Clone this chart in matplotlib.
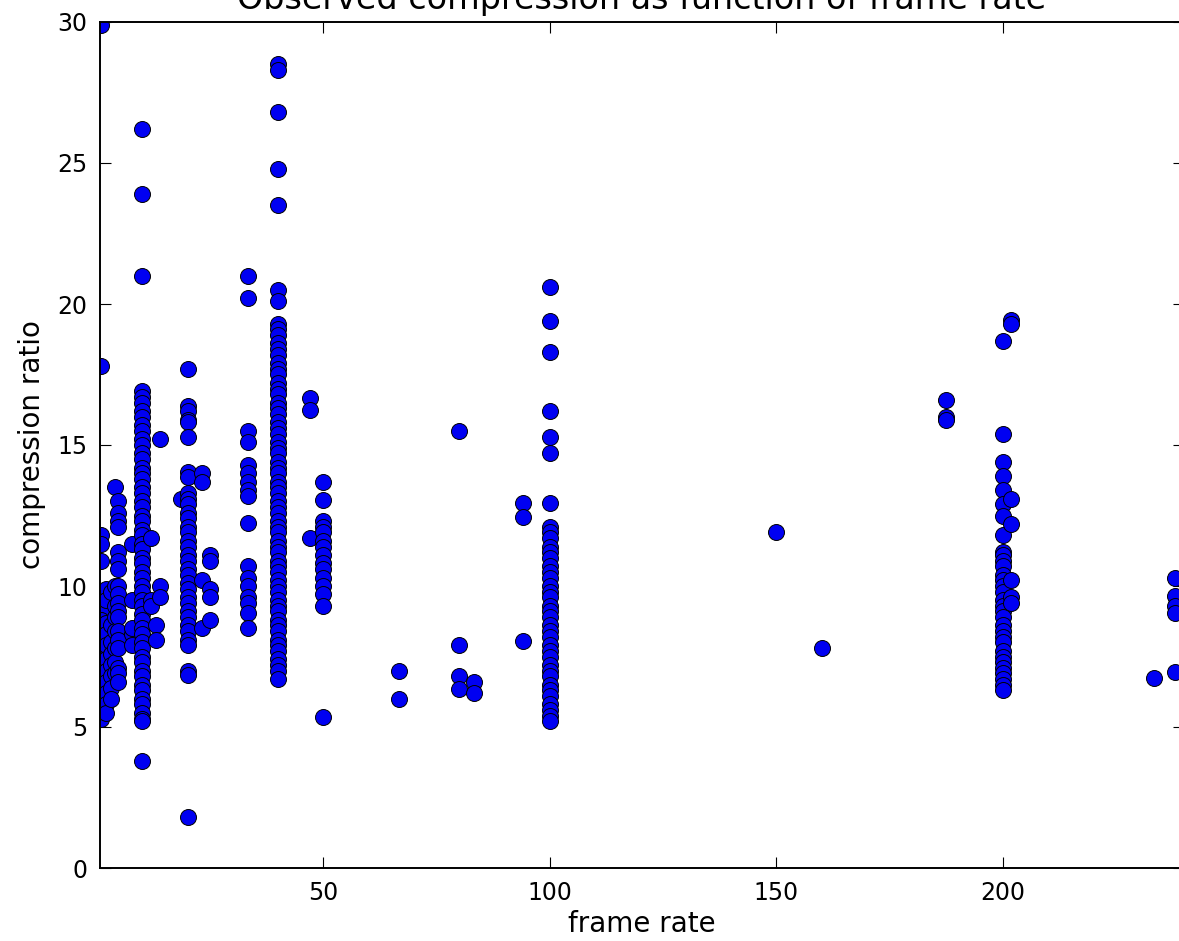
import matplotlib
matplotlib.use("Agg")
import matplotlib.pyplot as plt

# frame rate columns and the compression ratios observed at each one
fr_1 = [29.9, 17.8, 11.8, 11.5, 10.9, 9.8, 9.6, 9.4, 9.1, 8.8, 8.5, 8.2, 7.9, 7.6,
        7.3, 7.0, 6.7, 6.4, 6.1, 5.8, 5.5, 5.3]
fr_2 = [9.9, 9.5, 8.7, 8.3, 7.9, 7.4, 7.0, 6.6, 6.2, 5.8, 5.5]
fr_3 = [9.8, 8.6, 8.0, 7.6, 7.2, 6.8, 6.4, 6.0]
fr_4 = [13.5, 10.0, 9.3, 8.9, 8.4, 7.8, 7.3, 6.9]
fr_5 = [13.0, 12.6, 12.3, 12.1, 11.2, 10.9, 10.6, 10.0, 9.7, 9.4, 9.1, 8.9, 8.4,
        8.1, 7.8, 7.1, 6.9, 6.6]
fr_7 = [11.5, 9.5, 8.3, 7.9, 8.5]
fr_10 = [26.2, 23.9, 21.0, 16.9, 16.7, 16.5, 16.2, 16.0, 15.7, 15.5, 15.2, 15.0,
         14.7, 14.5, 14.2, 14.0, 13.8, 13.5, 13.3, 13.0, 12.8, 12.5, 12.3, 12.0,
         11.8, 11.5, 11.3, 11.0, 10.8, 10.5, 10.3, 10.0, 9.8, 9.5, 9.3, 9.0, 8.8,
         8.5, 8.3, 8.0, 7.8, 7.5, 7.3, 7.0, 6.8, 6.5, 6.3, 6.0, 5.8, 5.5, 5.3,
         5.2, 3.8]
fr_12 = [11.7, 9.5, 9.3]
fr_13 = [8.6, 8.1]
fr_14 = [15.2, 10.0, 9.6]
fr_19 = [13.1]
fr_20 = [17.7, 16.4, 16.2, 15.9, 15.8, 15.3, 14.05, 13.85, 13.3, 13.1, 12.9,
         12.6, 12.4, 12.1, 11.9, 11.6, 11.4, 11.1, 10.9, 10.6, 10.4, 10.1, 9.9,
         9.6, 9.4, 9.1, 8.9, 8.6, 8.4, 8.1, 7.9, 7.0, 6.85, 1.8]
fr_23 = [14.0, 13.7, 10.2, 8.5]
fr_25 = [11.1, 10.9, 9.9, 9.6, 8.8]
fr_33 = [21.0, 20.2, 15.5, 15.1, 14.3, 14.0, 13.7, 13.4, 13.2, 12.25, 10.7,
         10.3, 10.0, 9.6, 9.4, 9.05, 8.5]
fr_40 = [28.5, 28.3, 26.8, 24.8, 23.5, 20.5, 20.1, 19.3, 19.1, 18.9, 18.6, 18.4,
         18.2, 17.9, 17.7, 17.5, 17.2, 17.0, 16.8, 16.5, 16.3, 16.1, 15.8, 15.6,
         15.4, 15.1, 14.9, 14.7, 14.4, 14.2, 14.0, 13.7, 13.5, 13.3, 13.0, 12.8,
         12.6, 12.3, 12.1, 11.9, 11.6, 11.4, 11.2, 10.9, 10.7, 10.5, 10.2, 10.0,
         9.8, 9.5, 9.3, 9.1, 8.8, 8.6, 8.4, 8.1, 7.9, 7.7, 7.4, 7.2, 7.0, 6.7]
fr_47 = [16.65, 16.25, 11.7]
fr_50 = [13.7, 13.05, 12.3, 12.1, 11.9, 11.6, 11.4, 11.1, 10.8, 10.6, 10.3,
         10.0, 9.7, 9.3, 5.35]
fr_67 = [7.0, 6.0]
fr_80 = [15.5, 7.9, 6.8, 6.35]
fr_83 = [6.6, 6.2]
fr_94 = [12.95, 12.45, 8.05]
fr_100 = [20.6, 19.4, 18.3, 16.2, 15.3, 14.7, 12.95, 12.1, 11.9, 11.7, 11.4,
          11.2, 11.0, 10.7, 10.5, 10.3, 10.0, 9.8, 9.6, 9.3, 9.1, 8.9, 8.6, 8.4,
          8.2, 7.9, 7.7, 7.5, 7.2, 7.0, 6.8, 6.5, 6.3, 6.1, 5.8, 5.6, 5.4, 5.2]
fr_150 = [11.9]
fr_160 = [7.8]
fr_188 = [16.6, 16.0, 15.9]
fr_200 = [18.7, 15.4, 14.4, 13.9, 13.4, 12.9, 12.5, 11.8, 11.2, 11.1, 10.9,
          10.7, 10.4, 10.2, 10.0, 9.8, 9.5, 9.3, 9.1, 8.9, 8.6, 8.4, 8.2, 8.0,
          7.7, 7.5, 7.3, 7.1, 6.9, 6.7, 6.5, 6.3]
fr_202 = [19.45, 19.3, 13.1, 12.2, 10.2, 9.6, 9.4]
fr_233 = [6.75]
fr_238 = [10.3, 9.65, 9.3, 9.05, 6.95]

columns = [(1, fr_1), (2, fr_2), (3, fr_3), (4, fr_4), (4.6, fr_5), (7.7, fr_7),
           (10, fr_10), (12, fr_12), (13, fr_13), (14, fr_14), (18.5, fr_19),
           (20, fr_20), (23.3, fr_23), (25, fr_25), (33.3, fr_33), (40, fr_40),
           (47, fr_47), (50, fr_50), (66.7, fr_67), (80, fr_80), (83.3, fr_83),
           (94, fr_94), (100, fr_100), (150, fr_150), (160, fr_160),
           (187.5, fr_188), (200, fr_200), (201.7, fr_202), (233.3, fr_233),
           (238, fr_238)]

frame_rate = []
ratio = []
for rate, values in columns:
    frame_rate += [rate] * len(values)
    ratio += values

plt.rcParams["font.family"] = ["DejaVu Sans"]

fig = plt.figure(figsize=(11.79, 9.41), dpi=100)
ax = fig.add_axes([100 / 1179, 73 / 941, 1084 / 1179, 846 / 941])

ax.plot(frame_rate, ratio, "o", color=(0, 0, 0.95), markeredgecolor="k",
        markeredgewidth=0.7, markersize=11.5)

ax.set_xlim(0.67, 240)
ax.set_ylim(0, 30)
ax.set_xticks([50, 100, 150, 200])
ax.set_yticks([0, 5, 10, 15, 20, 25, 30])
ax.tick_params(direction="in", top=True, right=True, length=8, width=0.8,
               labelsize=17, pad=9)
for s in ax.spines.values():
    s.set_linewidth(1.4)

ax.set_title("Observed compression as function of frame rate", fontsize=24, pad=9)
ax.set_xlabel("frame rate", fontsize=20, labelpad=4)
ax.set_ylabel("compression ratio", fontsize=20, labelpad=8)

fig.savefig("out.png", dpi=100)
